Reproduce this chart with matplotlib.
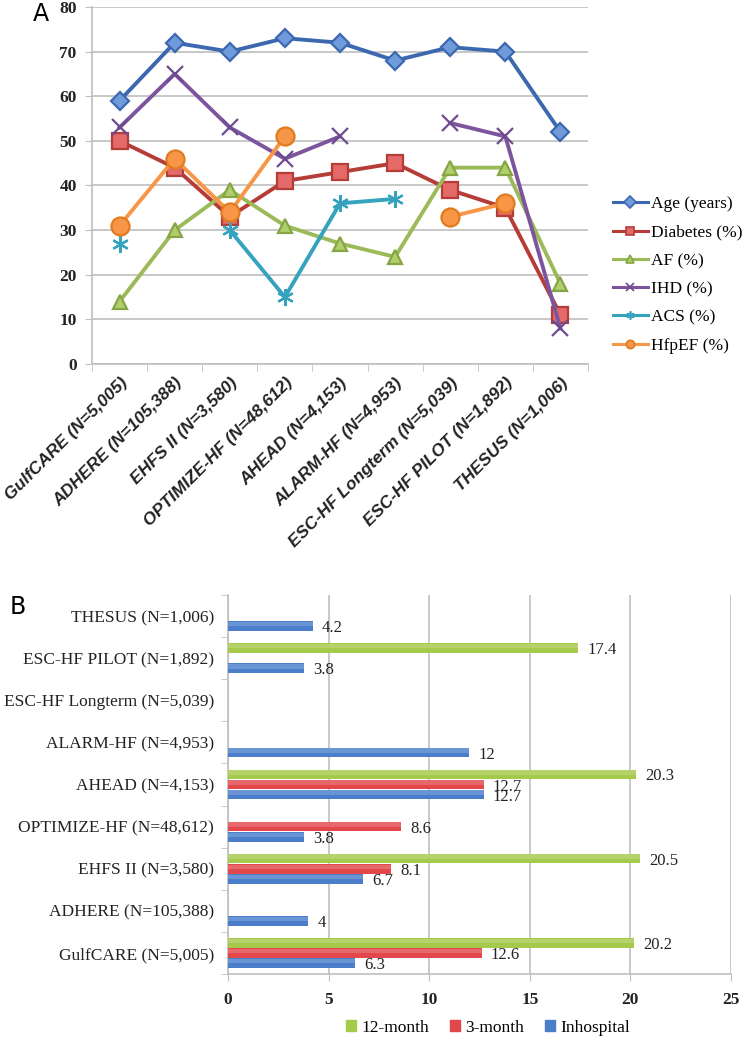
import numpy as np
import matplotlib
matplotlib.use("Agg")
import matplotlib.pyplot as plt
from matplotlib.lines import Line2D
from matplotlib.patches import Patch

nan = np.nan

# panel A data
registries = ["GulfCARE (N=5,005)", "ADHERE (N=105,388)", "EHFS II (N=3,580)",
              "OPTIMIZE-HF (N=48,612)", "AHEAD (N=4,153)", "ALARM-HF (N=4,953)",
              "ESC-HF Longterm (N=5,039)", "ESC-HF PILOT (N=1,892)", "THESUS (N=1,006)"]
age      = [59, 72, 70, 73, 72, 68, 71, 70, 52]
diabetes = [50, 44, 33, 41, 43, 45, 39, 35, 11]
af       = [14, 30, 39, 31, 27, 24, 44, 44, 18]
ihd      = [53, 65, 53, 46, 51, nan, 54, 51, 8]
acs      = [27, nan, 30, 15, 36, 37, nan, nan, nan]
hfpef    = [31, 46, 34, 51, nan, nan, 33, 36, nan]

# panel B data (bottom to top)
reg_b = ["GulfCARE (N=5,005)", "ADHERE (N=105,388)", "EHFS II (N=3,580)",
         "OPTIMIZE-HF (N=48,612)", "AHEAD (N=4,153)", "ALARM-HF (N=4,953)",
         "ESC-HF Longterm (N=5,039)", "ESC-HF PILOT (N=1,892)", "THESUS (N=1,006)"]
inhosp   = [6.3, 4, 6.7, 3.8, 12.7, 12, nan, 3.8, 4.2]
month3   = [12.6, nan, 8.1, 8.6, 12.7, nan, nan, nan, nan]
month12  = [20.2, nan, 20.5, nan, 20.3, nan, nan, 17.4, nan]

fig = plt.figure(figsize=(7.43, 10.45), dpi=100)
grid_c = "#BFBFBF"
serif = ["Liberation Serif", "DejaVu Serif"]

# ---------------- panel A ----------------
ax1 = fig.add_axes([92/743, 1-364/1045, (588-92)/743, (364-7)/1045])
x = np.arange(len(registries))
series = [
    ("Age (years)", age, "#3C68B0", "D", "#6F9BDB", "#3C68B0", 9),
    ("Diabetes (%)", diabetes, "#B63C38", "s", "#E46A6A", "#B63C38", 11),
    ("AF (%)", af, "#9BBB59", "^", "#AFCF6A", "#86A544", 10),
    ("IHD (%)", ihd, "#7D559F", "x", "#6E4A8E", "#6E4A8E", 11),
    ("ACS (%)", acs, "#35A2BE", (6, 2, 0), "#35A2BE", "#35A2BE", 12),
    ("HfpEF (%)", hfpef, "#F79646", "o", "#F79646", "#E07B20", 13),
]
handles = []
for name, vals, lc, mk, mf, me, ms in series:
    ax1.plot(x, vals, color=lc, lw=2.8, marker=mk, markersize=ms,
             markerfacecolor=mf, markeredgecolor=me, markeredgewidth=1.6, zorder=3)
    handles.append(Line2D([0], [0], color=lc, lw=2.2, marker=mk, markersize=6,
                          markerfacecolor=mf, markeredgecolor=me, markeredgewidth=1.2))

ax1.set_xlim(-0.5, 8.5)
ax1.set_ylim(0, 80)
ax1.set_yticks(range(0, 81, 10))
ax1.yaxis.grid(True, color=grid_c, lw=1.2)
ax1.set_axisbelow(True)
for s in ["top", "right"]:
    ax1.spines[s].set_visible(False)
ax1.spines["left"].set_color(grid_c)
ax1.spines["bottom"].set_color(grid_c)
ax1.spines["left"].set_linewidth(1.2)
ax1.spines["bottom"].set_linewidth(1.2)
ax1.set_xticks(x)
ax1.set_xticklabels(registries, rotation=45, ha="right", rotation_mode="anchor",
                    family=["Liberation Sans Narrow", "Liberation Sans"],
                    fontsize=12.5, fontweight="bold", style="italic", color="#222222")
ax1.tick_params(axis="x", length=0, pad=8)
ax1.set_xticks(np.arange(-0.5, 9, 1), minor=True)
ax1.tick_params(axis="x", which="minor", length=5, color=grid_c)
ax1.tick_params(axis="y", length=5, color=grid_c, pad=6)
for t in ax1.get_yticklabels():
    t.set_family(serif)
    t.set_fontweight("bold")
    t.set_fontsize(12.5)
    t.set_color("#222222")

fig.legend(handles, [s[0] for s in series], loc="center left",
           bbox_to_anchor=(606/743, 1-275/1045), frameon=False,
           prop={"family": serif, "size": 12.5}, handlelength=2.0,
           handletextpad=0.2, labelspacing=0.7, borderaxespad=0)

fig.text(33/743, 1-14/1045, "A", fontsize=17, family="DejaVu Sans", va="center")

# ---------------- panel B ----------------
ax2 = fig.add_axes([228/743, 1-974/1045, (731-228)/743, (974-595)/1045])
y = np.arange(len(reg_b))
h = 0.23
cols = {"12": "#A5C94A", "3": "#E2474B", "in": "#4A7ECB"}
bars = [(month12, 0.24, cols["12"]), (month3, 0.0, cols["3"]), (inhosp, -0.24, cols["in"])]
for vals, off, c in bars:
    v = np.array(vals, dtype=float)
    ax2.barh(y + off, np.nan_to_num(v), height=h, color=c, zorder=3)
    # lighter upper half, like the glossy bars of the original
    ax2.barh(y + off + h * 0.2, np.nan_to_num(v), height=h * 0.45,
             color="white", alpha=0.18, lw=0, zorder=3.5)
    for yi, vi in zip(y, v):
        if not np.isnan(vi):
            ax2.text(vi + 0.45, yi + off - 0.05, f"{vi:g}", va="center", ha="left",
                     family=serif, fontsize=12, color="#222222", zorder=4)

ax2.set_xlim(0, 25)
ax2.set_ylim(-0.5, 8.5)
ax2.set_xticks(range(0, 26, 5))
ax2.xaxis.grid(True, color=grid_c, lw=1.2)
ax2.set_axisbelow(True)
for s in ["top", "right"]:
    ax2.spines[s].set_visible(False)
ax2.spines["left"].set_color(grid_c)
ax2.spines["bottom"].set_color(grid_c)
ax2.spines["left"].set_linewidth(1.2)
ax2.spines["bottom"].set_linewidth(1.2)
ax2.set_yticks(y)
ax2.set_yticklabels(reg_b, family=serif, fontsize=12.5, color="#222222")
ax2.tick_params(axis="y", length=0, pad=10)
ax2.set_yticks(np.arange(-0.5, 9, 1), minor=True)
ax2.tick_params(axis="y", which="minor", length=5, color=grid_c)
ax2.tick_params(axis="x", length=5, color=grid_c, pad=8)
for t in ax2.get_xticklabels():
    t.set_family(serif)
    t.set_fontweight("bold")
    t.set_fontsize(12.5)
    t.set_color("#222222")

leg_h = [Patch(color=cols["12"]), Patch(color=cols["3"]), Patch(color=cols["in"])]
fig.legend(leg_h, ["12-month", "3-month", "Inhospital"], loc="center",
           bbox_to_anchor=(488/743, 1-1028/1045), ncol=3, frameon=False,
           prop={"family": serif, "size": 12.5}, handlelength=0.6, handleheight=0.6,
           handletextpad=0.3, columnspacing=1.2)

fig.text(10/743, 1-607/1045, "B", fontsize=17, family="DejaVu Sans", va="center")

fig.savefig("out.png", dpi=100)
